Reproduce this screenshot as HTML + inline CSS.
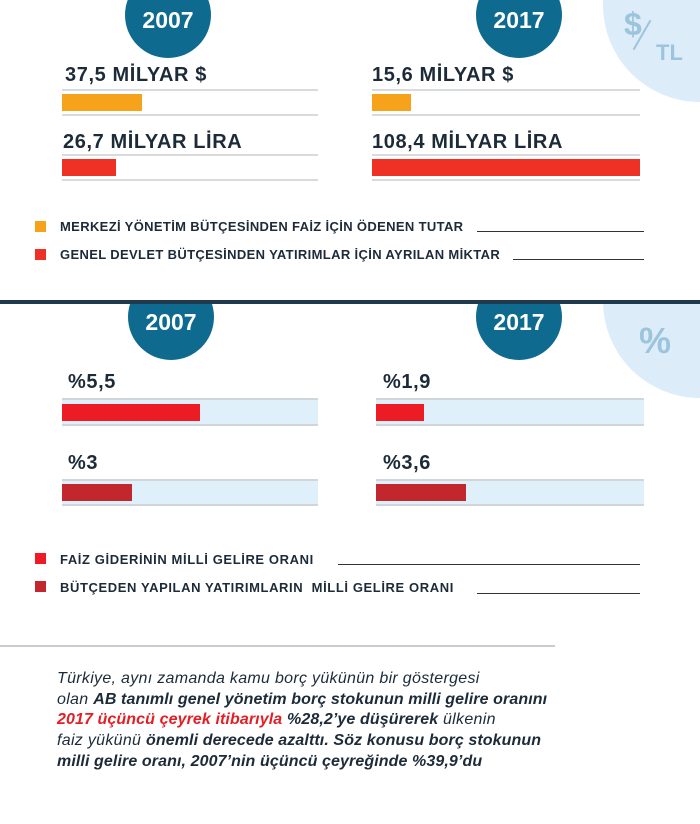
<!DOCTYPE html>
<html><head><meta charset="utf-8"><style>
*{margin:0;padding:0;box-sizing:border-box}
body{width:700px;height:824px;background:#fff;position:relative;overflow:hidden;font-family:"Liberation Sans",sans-serif;color:#1d2b38}
.a{position:absolute}
.circ{position:absolute;width:86px;height:86px;border-radius:50%;background:#0e6b8f;color:#fff;font-weight:bold;font-size:23px;text-align:center}
.lbl{position:absolute;font-weight:bold;font-size:20px;letter-spacing:0.6px;line-height:20px}
.hl{position:absolute;height:2px;background:#d8dadc}
.bar{position:absolute}
.leg{position:absolute;font-weight:bold;font-size:13px;line-height:14px;letter-spacing:0.35px;white-space:nowrap}
.sq{position:absolute;width:11px;height:11px}
.ul{position:absolute;height:1px;background:#333}
.bg{position:absolute;background:#dff0fa;border-top:2px solid #d0d6da;border-bottom:2px solid #d0d6da}
.t{position:absolute;left:57px;font-style:italic;font-size:16px;line-height:20px;white-space:nowrap;color:#1d2b38;letter-spacing:0.3px}
.t b{letter-spacing:0.1px}
</style></head><body>
<div class="a" style="left:603px;top:-92px;width:194px;height:194px;border-radius:50%;background:#dcedf9"></div>
<div class="a" style="left:624px;top:6px;font-size:32px;font-weight:bold;color:#9cc4dc">$</div>
<div class="a" style="left:641px;top:18px;width:2px;height:34px;background:#9cc4dc;transform:rotate(30deg)"></div>
<div class="a" style="left:656px;top:40px;font-size:22px;font-weight:bold;color:#9cc4dc">TL</div>

<div class="circ" style="left:125px;top:-28px;line-height:96px;">2007</div>
<div class="circ" style="left:476px;top:-28px;line-height:96px;">2017</div>

<div class="lbl" style="left:65px;top:65px">37,5 MİLYAR $</div>
<div class="hl" style="left:62px;top:89px;width:256px"></div>
<div class="bar" style="left:62px;top:94px;width:80px;height:17px;background:#f7a21b"></div>
<div class="hl" style="left:62px;top:114px;width:256px"></div>
<div class="lbl" style="left:63px;top:132px">26,7 MİLYAR LİRA</div>
<div class="hl" style="left:62px;top:154px;width:256px"></div>
<div class="bar" style="left:62px;top:159px;width:54px;height:17px;background:#ee3124"></div>
<div class="hl" style="left:62px;top:179px;width:256px"></div>

<div class="lbl" style="left:372px;top:65px">15,6 MİLYAR $</div>
<div class="hl" style="left:372px;top:89px;width:268px"></div>
<div class="bar" style="left:372px;top:94px;width:39px;height:17px;background:#f7a21b"></div>
<div class="hl" style="left:372px;top:114px;width:268px"></div>
<div class="lbl" style="left:372px;top:132px">108,4 MİLYAR LİRA</div>
<div class="hl" style="left:372px;top:154px;width:268px"></div>
<div class="bar" style="left:372px;top:159px;width:268px;height:17px;background:#ee3124"></div>
<div class="hl" style="left:372px;top:179px;width:268px"></div>

<div class="sq" style="left:35px;top:221px;background:#f7a21b"></div>
<div class="leg" style="left:60px;top:220px">MERKEZİ YÖNETİM BÜTÇESİNDEN FAİZ İÇİN ÖDENEN TUTAR</div>
<div class="ul" style="left:477px;top:231px;width:167px"></div>
<div class="sq" style="left:35px;top:249px;background:#ee3124"></div>
<div class="leg" style="left:60px;top:248px">GENEL DEVLET BÜTÇESİNDEN YATIRIMLAR İÇİN AYRILAN MİKTAR</div>
<div class="ul" style="left:513px;top:259px;width:131px"></div>

<div class="a" style="left:0;top:300px;width:700px;height:4px;background:#1e3a4c"></div>
<div class="a" style="left:0;top:304px;width:700px;height:120px;overflow:hidden">
  <div class="a" style="left:603px;top:-100px;width:194px;height:194px;border-radius:50%;background:#dcedf9"></div>
  <div class="a" style="left:639px;top:16px;font-size:36px;font-weight:bold;color:#9cc4dc">%</div>
  <div class="circ" style="left:128px;top:-30px;line-height:96px;">2007</div>
  <div class="circ" style="left:476px;top:-30px;line-height:96px;">2017</div>
</div>

<div class="lbl" style="left:68px;top:372px">%5,5</div>
<div class="bg" style="left:62px;top:398px;width:256px;height:28px"></div>
<div class="bar" style="left:62px;top:404px;width:138px;height:17px;background:#ed1c24"></div>
<div class="lbl" style="left:68px;top:453px">%3</div>
<div class="bg" style="left:62px;top:479px;width:256px;height:27px"></div>
<div class="bar" style="left:62px;top:484px;width:70px;height:17px;background:#c1272d"></div>

<div class="lbl" style="left:383px;top:372px">%1,9</div>
<div class="bg" style="left:376px;top:398px;width:268px;height:28px"></div>
<div class="bar" style="left:376px;top:404px;width:48px;height:17px;background:#ed1c24"></div>
<div class="lbl" style="left:383px;top:453px">%3,6</div>
<div class="bg" style="left:376px;top:479px;width:268px;height:27px"></div>
<div class="bar" style="left:376px;top:484px;width:90px;height:17px;background:#c1272d"></div>

<div class="sq" style="left:35px;top:553px;background:#ed1c24"></div>
<div class="leg" style="left:60px;top:553px;letter-spacing:0.6px">FAİZ GİDERİNİN MİLLİ GELİRE ORANI</div>
<div class="ul" style="left:338px;top:564px;width:302px"></div>
<div class="sq" style="left:35px;top:581px;background:#c1272d"></div>
<div class="leg" style="left:60px;top:581px;letter-spacing:0.6px">BÜTÇEDEN YAPILAN YATIRIMLARIN&nbsp; MİLLİ GELİRE ORANI</div>
<div class="ul" style="left:477px;top:593px;width:163px"></div>

<div class="a" style="left:0;top:645px;width:555px;height:2px;background:#c8ccd0"></div>
<div class="t" style="top:669px">Türkiye, aynı zamanda kamu borç yükünün bir göstergesi</div>
<div class="t" style="top:690px">olan <b>AB tanımlı genel yönetim borç stokunun milli gelire oranını</b></div>
<div class="t" style="top:710px"><b style="color:#e31e24">2017 üçüncü çeyrek itibarıyla</b> <b>%28,2’ye düşürerek</b> ülkenin</div>
<div class="t" style="top:731px">faiz yükünü <b>önemli derecede azalttı. Söz konusu borç stokunun</b></div>
<div class="t" style="top:752px"><b>milli gelire oranı, 2007’nin üçüncü çeyreğinde %39,9’du</b></div>
</body></html>
